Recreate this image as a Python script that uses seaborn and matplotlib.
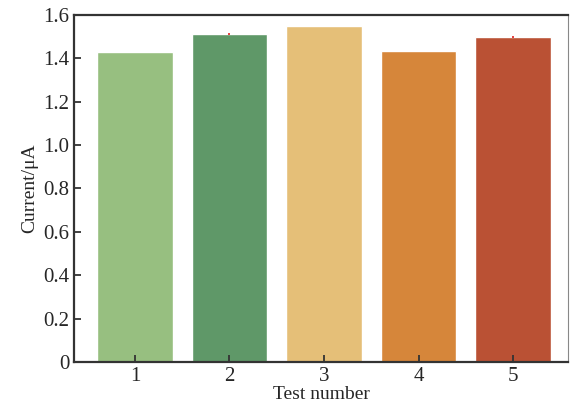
import numpy as np
import pandas as pd
import seaborn as sns
import matplotlib.pyplot as plt

testes = ["1", "2", "3", "4", "5"]
corrente = [1.430, 1.512, 1.547, 1.432, 1.498]
erro = [0.0, 0.004, 0.0, 0.0, 0.003]
cores = ["#97BF80", "#5F9868", "#E5BF78", "#D6863A", "#BA5134"]

df = pd.DataFrame({"Test": testes, "Current": corrente, "Erro": erro})

sns.set_style("ticks")
plt.rcParams["font.family"] = ["Liberation Serif", "DejaVu Serif"]

fig, ax = plt.subplots(figsize = (5.72, 4.12), dpi = 100)

sns.barplot(data = df, x = "Test", y = "Current", hue = "Test", palette = cores,
            legend = False, width = 0.8, saturation = 1, ax = ax)

# barras de erro pequenas (vermelhas), só onde existem
com_erro = df[df["Erro"] > 0]
ax.errorbar(com_erro.index, com_erro["Current"], yerr = com_erro["Erro"], fmt = "none",
            ecolor = "#E02020", elinewidth = 1.2, capsize = 0, zorder = 4)

ax.set_xlim(-0.64, 4.58)
ax.set_ylim(0, 1.6)
ax.set_yticks(np.arange(0, 1.61, 0.2))
ax.set_yticklabels(["0"] + [f"{v:.1f}" for v in np.arange(0.2, 1.61, 0.2)])
ax.set_axisbelow(False)

ax.set_xlabel("Test number", fontsize = 14, labelpad = 0)
ax.set_ylabel("Current/μA", fontsize = 14, labelpad = 4)
ax.tick_params(direction = "in", labelsize = 15, length = 5, width = 1.3, color = "#333333")

for lado in ["left", "bottom", "top"]:
    ax.spines[lado].set_linewidth(1.6)
    ax.spines[lado].set_color("#333333")
ax.spines["right"].set_linewidth(0.8)
ax.spines["right"].set_color("#888888")

plt.subplots_adjust(left = 0.13, right = 0.993, top = 0.964, bottom = 0.121)
plt.savefig("out.png", dpi = 100)
